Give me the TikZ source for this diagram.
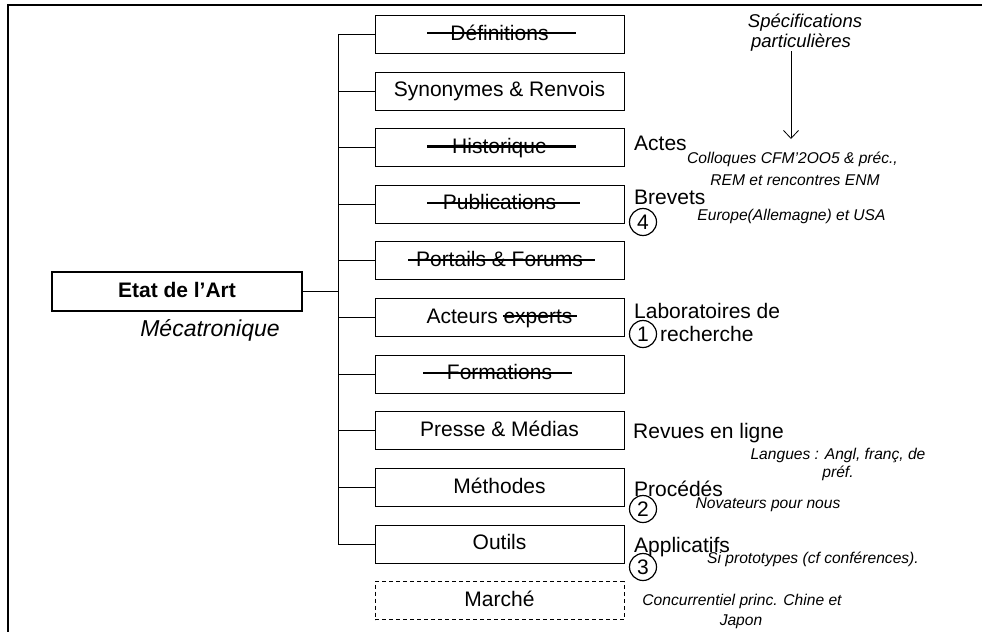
\documentclass[tikz,border=0pt]{standalone}
\usepackage{fontspec}
\setmainfont{Liberation Sans}
\usetikzlibrary{arrows.meta}
\newcommand\fsMain{\fontsize{21}{25}\selectfont}
\newcommand\fsSmall{\fontsize{15.6}{19}\selectfont\itshape}
\newcommand\fsSpec{\fontsize{18.5}{22}\selectfont\itshape}
\newcommand\fsMeca{\fontsize{23}{27}\selectfont\itshape}
\begin{document}
\begin{tikzpicture}[x=1pt,y=-1pt,
  box/.style={draw, line width=0.9pt, minimum width=249pt, minimum height=38pt,
    inner sep=0pt, font=\fsMain, text height=15.5pt, text depth=4.5pt},
  rootbox/.style={draw, line width=1.8pt, minimum width=250pt, minimum height=39pt,
    inner sep=0pt, font=\fsMain\bfseries, text height=15.5pt, text depth=4.5pt},
  conn/.style={line width=0.9pt},
  strike/.style={line width=2.3pt},
  frame/.style={line width=1.6pt},
  lbl/.style={anchor=base west, inner sep=0pt, font=\fsMain},
  note/.style={anchor=base, inner sep=0pt, font=\fsSmall},
  spec/.style={anchor=base, inner sep=0pt, font=\fsSpec},
  num/.style={draw, circle, line width=1.2pt, minimum size=27pt, inner sep=0pt, font=\fsMain}
]
\useasboundingbox (0,0) rectangle (982,632);
% frame (top and left edges visible)
\coordinate (frTR) at (982,5);
\coordinate (frTL) at (8,5);
\coordinate (frBL) at (8,632);
\draw[frame] (frTR) -- (frTL) -- (frBL);

% root
\node[rootbox] (etat) at (177,291.5) {Etat de l’Art};
\node[anchor=base, inner sep=0pt, font=\fsMeca] (meca) at (210,336.5) {Mécatronique};

% boxes
\node[box] (def) at (499.5,34.5) {Définitions};
\node[box] (syn) at (499.5,91) {Synonymes \& Renvois};
\node[box] (his) at (499.5,147.6) {Historique};
\node[box] (pub) at (499.5,204.3) {Publications};
\node[box] (por) at (499.5,260.9) {Portails \& Forums};
\node[box] (act) at (499.5,317.5) {Acteurs experts};
\node[box] (for) at (499.5,374.1) {Formations};
\node[box] (pre) at (499.5,430.8) {Presse \& Médias};
\node[box] (met) at (499.5,487.5) {Méthodes};
\node[box] (out) at (499.5,544.2) {Outils};
\node[box, dashed, dash pattern=on 4pt off 3pt] (mar) at (499.5,600.5) {Marché};

% strike-throughs
\draw[strike] ([shift={(-72.5,-1.2)}]def.center) -- ([shift={(76.5,-1.2)}]def.center);
\draw[strike] ([shift={(-72.5,-1.2)}]his.center) -- ([shift={(76.5,-1.2)}]his.center);
\draw[strike] ([shift={(-72.5,-1.2)}]pub.center) -- ([shift={(80.5,-1.2)}]pub.center);
\draw[strike] ([shift={(-91.5,-1.2)}]por.center) -- ([shift={(95.5,-1.2)}]por.center);
\draw[strike] ([shift={(3.5,-1.2)}]act.center) -- ([shift={(77.5,-1.2)}]act.center);
\draw[strike] ([shift={(-76.5,-1.2)}]for.center) -- ([shift={(72.5,-1.2)}]for.center);

% tree connectors
\coordinate (trunk) at (338,0);
\draw[conn] (def.west -| trunk) -- (out.west -| trunk);
\draw[conn] (etat.east) -- (etat.east -| trunk);
\foreach \b in {def,syn,his,pub,por,act,for,pre,met,out}
  \draw[conn] (\b.west -| trunk) -- (\b.west);

% specification note and arrow
\node[spec] (spec1) at (805,27) {Spécifications};
\node[spec] (spec2) at (801,47) {particulières};
\coordinate (arrTip) at (791,139);
\draw[line width=0.8pt, -{Straight Barb[length=8pt,width=15pt]}] (spec2.south -| arrTip) -- (arrTip);

% right-hand labels
\node[lbl] (actes) at (634,150) {Actes};
\node[note] (coll1) at (792.5,163) {Colloques CFM’2OO5 \& préc.,};
\node[note] (coll2) at (795,185) {REM et rencontres ENM};

\node[lbl] (brev) at (634,204) {Brevets};
\node[note] (eur) at (791.5,220) {Europe(Allemagne) et USA};
\node[num] (n4) at (643,222) {4};

\node[lbl] (lab1) at (634,318) {Laboratoires de};
\node[lbl] (lab2) at (660,341) {recherche};
\node[num] (n1) at (643,334) {1};

\node[lbl] (rev) at (633,438) {Revues en ligne};
\node[note] (lang1) at (838,459) {Langues : Angl, franç, de};
\node[note] (lang2) at (838,477) {préf.};

\node[lbl] (proc) at (634,496) {Procédés};
\node[note] (nov) at (768,508) {Novateurs pour nous};
\node[num] (n2) at (643,509) {2};

\node[lbl] (appl) at (634,552) {Applicatifs};
\node[note] (proto) at (813,563) {Si prototypes (cf conférences).};
\node[num] (n3) at (643,567) {3};

\node[note] (conc1) at (742,605) {Concurrentiel princ. Chine et};
\node[note] (conc2) at (741,625) {Japon};
\end{tikzpicture}
\end{document}
